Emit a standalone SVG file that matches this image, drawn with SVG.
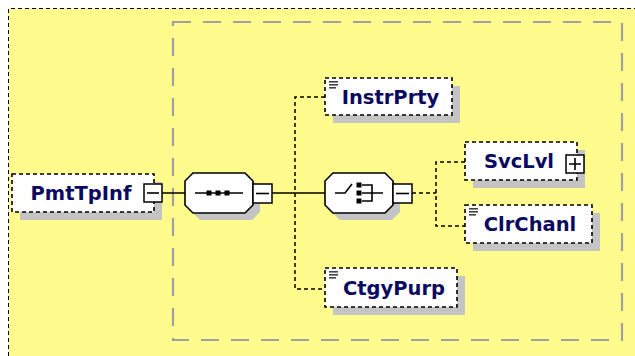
<svg xmlns="http://www.w3.org/2000/svg" width="635" height="356" viewBox="0 0 635 356">
<style>
.bg{fill:#fffb8c;}
.outer{fill:none;stroke:#000;stroke-width:1;stroke-dasharray:4 3;}
.inner{fill:none;stroke:#a0a0a0;stroke-width:2.2;stroke-dasharray:18 12;}
.shadow{fill:#c4c4c4;}
.node{fill:#fff;stroke:#000;stroke-width:1.6;stroke-dasharray:4 3;}
.comp{fill:#fff;stroke:#000;stroke-width:1.6;}
.btn{fill:#fff;stroke:#000;stroke-width:1.5;}
.sym{stroke:#000;stroke-width:1.6;fill:none;}
.solid{stroke:#000;stroke-width:1.5;fill:none;}
.dash{stroke:#000;stroke-width:1.5;fill:none;stroke-dasharray:4 3;}
.lbl{font-family:"DejaVu Sans","Liberation Sans",sans-serif;font-weight:bold;font-size:19.5px;fill:#0a0a60;text-anchor:middle;}
.ico{fill:#444;}
</style>
<rect x="0" y="0" width="635" height="356" fill="#fff"/>
<rect class="bg" x="8.5" y="8.5" width="627" height="348"/>
<path class="outer" d="M8.5,356 V8.5 H635"/>
<rect class="inner" x="173" y="22" width="449" height="318"/>

<g id="connectors">
  <path class="solid" d="M162,193 H185"/>
  <path class="solid" d="M272,193 H325"/>
  <path class="dash" d="M325,97 H295 V289 H325"/>
  <path class="dash" d="M412,193 H436"/>
  <path class="dash" d="M465,162 H436 V226 H465"/>
</g>

<g id="PmtTpInf">
  <rect class="shadow" x="20" y="182" width="142" height="38"/>
  <rect class="node" x="12" y="174" width="142" height="38"/>
  <text class="lbl" x="81" y="200">PmtTpInf</text>
  <rect class="btn" x="144" y="184" width="18" height="18"/>
  <path class="sym" d="M147,193 H159"/>
</g>

<g id="sequence">
  <path class="shadow" d="M200,180 H252 L260,188 V212 L252,220 H200 L192,212 V188 Z"/>
  <path class="comp" d="M193,173 H245 L253,181 V205 L245,213 H193 L185,205 V181 Z"/>
  <path class="sym" d="M195,193 H243"/>
  <rect x="206.5" y="190.5" width="5" height="5" fill="#000"/>
  <rect x="215.5" y="190.5" width="5" height="5" fill="#000"/>
  <rect x="224.5" y="190.5" width="5" height="5" fill="#000"/>
  <rect class="btn" x="253" y="184" width="19" height="19"/>
  <path class="sym" d="M256,193.5 H269"/>
</g>

<g id="choice">
  <path class="shadow" d="M340,180 H392 L400,188 V212 L392,220 H340 L332,212 V188 Z"/>
  <path class="comp" d="M333,173 H385 L393,181 V205 L385,213 H333 L325,205 V181 Z"/>
  <path class="sym" d="M335,193 H345 L352,184"/>
  <rect x="356.5" y="182.5" width="5" height="5" fill="#000"/>
  <rect x="356.5" y="190.5" width="5" height="5" fill="#000"/>
  <rect x="356.5" y="198.5" width="5" height="5" fill="#000"/>
  <path class="sym" d="M362,185 H372 V201 H362 M362,193 H383"/>
  <rect class="btn" x="393" y="184" width="19" height="19"/>
  <path class="sym" d="M396,193.5 H409"/>
</g>

<g id="InstrPrty">
  <rect class="shadow" x="333" y="86" width="127" height="37"/>
  <rect class="node" x="325" y="78" width="127" height="37"/>
  <rect class="ico" x="329" y="81" width="9" height="1.6"/>
  <rect class="ico" x="329" y="84" width="9" height="1.6"/>
  <rect class="ico" x="329" y="87" width="7" height="1.6"/>
  <text class="lbl" x="390.5" y="103.5">InstrPrty</text>
</g>

<g id="SvcLvl">
  <rect class="shadow" x="473" y="150" width="112" height="38"/>
  <rect class="node" x="465" y="142" width="112" height="38"/>
  <text class="lbl" x="519" y="168">SvcLvl</text>
  <rect class="btn" x="566" y="155" width="18" height="18"/>
  <path class="sym" d="M569,164 H581 M575,158 V170"/>
</g>

<g id="ClrChanl">
  <rect class="shadow" x="473" y="213" width="127" height="38"/>
  <rect class="node" x="465" y="205" width="127" height="38"/>
  <rect class="ico" x="469" y="208" width="9" height="1.6"/>
  <rect class="ico" x="469" y="211" width="9" height="1.6"/>
  <rect class="ico" x="469" y="214" width="7" height="1.6"/>
  <text class="lbl" x="530" y="231">ClrChanl</text>
</g>

<g id="CtgyPurp">
  <rect class="shadow" x="333" y="276" width="132" height="39"/>
  <rect class="node" x="325" y="268" width="132" height="39"/>
  <rect class="ico" x="329" y="271" width="9" height="1.6"/>
  <rect class="ico" x="329" y="274" width="9" height="1.6"/>
  <rect class="ico" x="329" y="277" width="7" height="1.6"/>
  <text class="lbl" x="394" y="294.5">CtgyPurp</text>
</g>
</svg>
